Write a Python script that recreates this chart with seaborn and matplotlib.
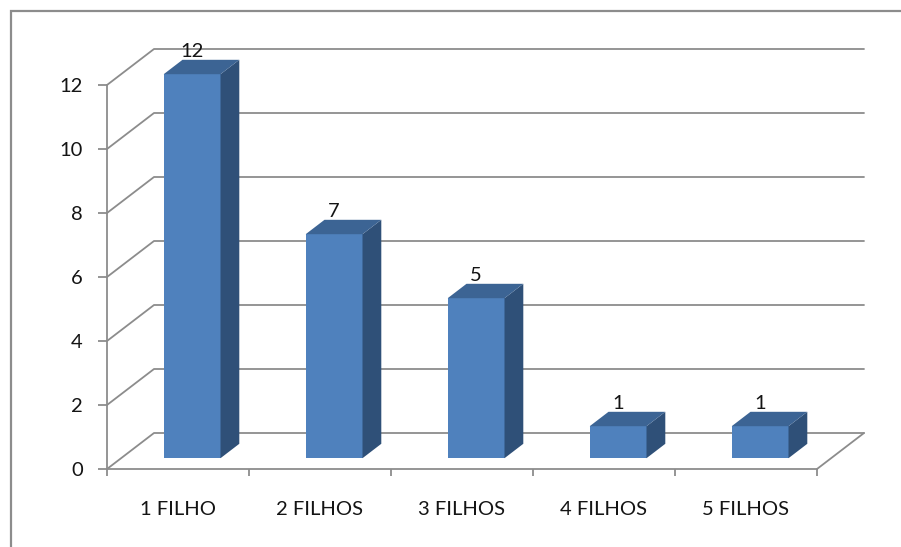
import pandas as pd
import seaborn as sns
import matplotlib.pyplot as plt
from matplotlib.patches import Polygon, Rectangle

# Data
categories = ["1 FILHO", "2 FILHOS", "3 FILHOS", "4 FILHOS", "5 FILHOS"]
counts = [12, 7, 5, 1, 1]
y_ticks = [0, 2, 4, 6, 8, 10, 12]

# Colours of the three visible faces of each column
FRONT = "#4F81BD"
SIDE = "#2F5078"
TOP = "#3C6494"
GRID = "#8C8C8C"
TEXT = "#141414"
FS = 14.5

# Perspective depth of the chart (in data units) and column placement in depth
DX, DY = 0.331, 1.125
F0, DEPTH = 0.3, 0.4

sns.set_theme(style="white")
plt.rcParams["font.family"] = ["Lato", "DejaVu Sans"]

fig = plt.figure(figsize=(9.01, 5.47), dpi=100)
fig.patch.set_facecolor("white")
ax = fig.add_axes([107 / 901, 78 / 547, 710 / 901, 384 / 547])

df = pd.DataFrame({"filhos": categories, "n": counts})
sns.barplot(data=df, x="filhos", y="n", color=FRONT, width=0.4,
            saturation=1, linewidth=0, ax=ax, zorder=3)
ax.set_xlim(-0.5, len(categories) - 0.5)
ax.set_ylim(y_ticks[0], y_ticks[-1])
ax.set_xlabel("")
ax.set_ylabel("")

xmin, xmax = ax.get_xlim()

# Back wall gridlines with their diagonal return to the front axis
for t in y_ticks:
    ax.plot([xmin, xmin + DX, xmax + DX], [t, t + DY, t + DY],
            color=GRID, lw=1.3, clip_on=False, zorder=1)
# Right edge of the floor
ax.plot([xmax, xmax + DX], [0, DY], color=GRID, lw=1.3, clip_on=False, zorder=1)

# Turn the flat bars into 3D columns
fx, fy = F0 * DX, F0 * DY
bx, by = DEPTH * DX, DEPTH * DY
for p, v in zip(list(ax.patches), counts):
    x0, w, h = p.get_x(), p.get_width(), p.get_height()
    p.set_x(x0 + fx)
    p.set_y(fy)
    p.set_clip_on(False)
    xl, xr = x0 + fx, x0 + w + fx
    side = Polygon([(xr, fy), (xr + bx, fy + by), (xr + bx, h + fy + by), (xr, h + fy)],
                   closed=True, facecolor=SIDE, edgecolor="none", zorder=3, clip_on=False)
    top = Polygon([(xl, h + fy), (xr, h + fy), (xr + bx, h + fy + by), (xl + bx, h + fy + by)],
                  closed=True, facecolor=TOP, edgecolor="none", zorder=3, clip_on=False)
    ax.add_patch(side)
    ax.add_patch(top)
    ax.annotate(str(v), xy=(x0 + w / 2 + fx, h + fy + by), xytext=(0, 0),
                textcoords="offset points", ha="center", va="bottom",
                fontsize=FS, color=TEXT, annotation_clip=False, zorder=5)

# Front axes
for side_name in ["top", "right"]:
    ax.spines[side_name].set_visible(False)
for side_name in ["left", "bottom"]:
    ax.spines[side_name].set_color(GRID)
    ax.spines[side_name].set_linewidth(1.3)
    ax.spines[side_name].set_zorder(2)

ax.set_yticks(y_ticks)
ax.set_yticklabels([str(t) for t in y_ticks])
ax.tick_params(axis="y", which="major", direction="out", length=6.5, width=1.3,
               color=GRID, pad=11, labelsize=FS, labelcolor=TEXT, left=True)
ax.set_xticks(range(len(categories)))
ax.set_xticklabels(categories)
ax.set_xticks([i - 0.5 for i in range(len(categories) + 1)], minor=True)
ax.tick_params(axis="x", which="major", length=0, pad=23, labelsize=FS, labelcolor=TEXT)
ax.tick_params(axis="x", which="minor", direction="out", length=5, width=1.3,
               color=GRID, bottom=True)
ax.grid(False)

# Chart area border
fig.add_artist(Rectangle((11 / 901, -0.1), 1.2, (547 - 11) / 547 + 0.1,
                         transform=fig.transFigure, fill=False,
                         edgecolor=GRID, lw=1.6, zorder=0))

fig.savefig("out.png", dpi=100, facecolor="white")
